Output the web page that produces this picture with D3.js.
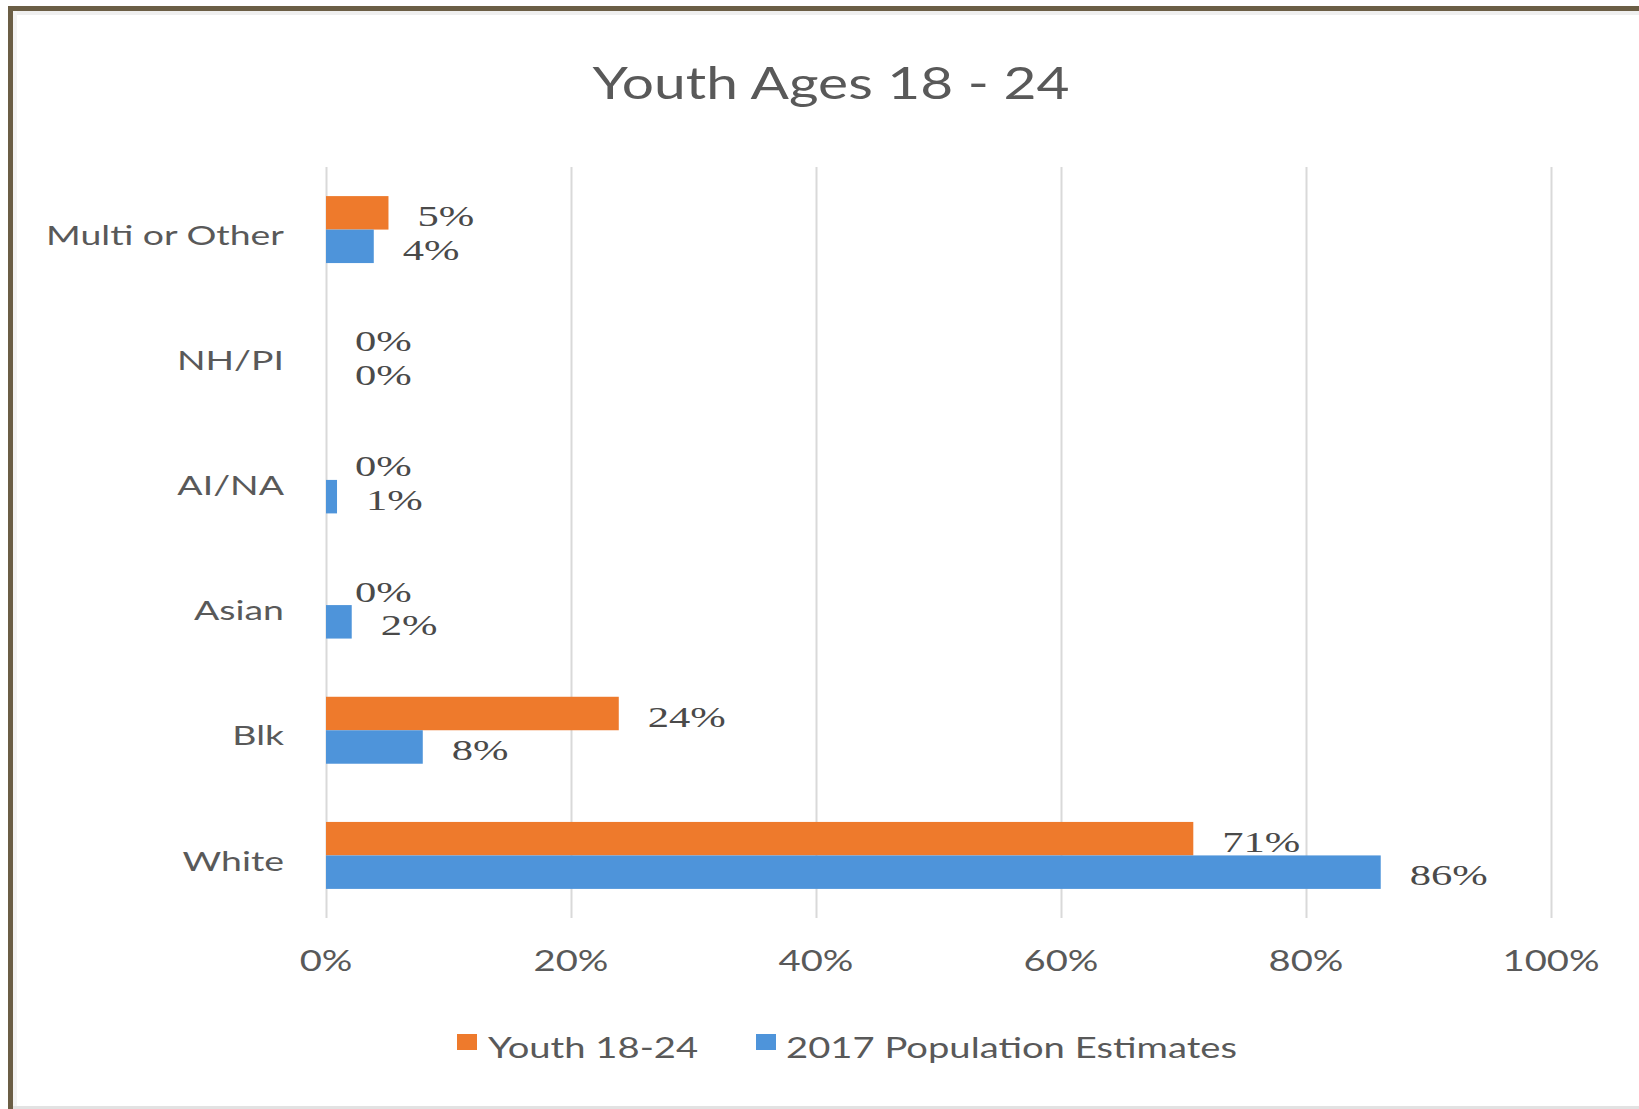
<!DOCTYPE html>
<html>
<head>
<meta charset="utf-8">
<script src="https://cdn.jsdelivr.net/npm/d3@7"></script>
<style>
  html, body { margin: 0; padding: 0; background: #ffffff; }
  svg { display: block; }
</style>
</head>
<body>
<svg id="chart" width="1639" height="1109"></svg>
<script>
// ---- data ----
const title = "Youth Ages 18 - 24";
const categories = ["Multi or Other", "NH/PI", "AI/NA", "Asian", "Blk", "White"];
const seriesNames = ["Youth 18-24", "2017 Population Estimates"];
const youthValues = [5.1, 0, 0, 0, 23.9, 70.8];
const populationValues = [3.9, 0, 0.9, 2.1, 7.9, 86.1];
const xTickValues = [0, 20, 40, 60, 80, 100];
const xTickLabels = ["0%", "20%", "40%", "60%", "80%", "100%"];
const seriesColors = ["#EE7A2C", "#4E94DA"];

// ---- setup ----
const svg = d3.select("#chart");
const W = 1639, H = 1109;
const sans = "Lato, 'Open Sans', sans-serif";
const serif = "'Liberation Serif', 'DejaVu Serif', serif";

// frame
svg.append("rect").attr("x", 0).attr("y", 0).attr("width", W).attr("height", H).attr("fill", "#ffffff");
svg.append("rect").attr("x", 13).attr("y", 11).attr("width", W - 13).attr("height", 4).attr("fill", "#efefef");
svg.append("rect").attr("x", 13).attr("y", 11).attr("width", 4).attr("height", H - 13).attr("fill", "#f3f3f3");
svg.append("rect").attr("x", 8).attr("y", 6).attr("width", W - 8).attr("height", 5).attr("fill", "#6b5e45");
svg.append("rect").attr("x", 8).attr("y", 6).attr("width", 5).attr("height", H - 6).attr("fill", "#6b5e45");
svg.append("rect").attr("x", 13).attr("y", H - 3).attr("width", W - 13).attr("height", 3).attr("fill", "#e2e2e2");

function measure(str, family, size, weight) {
  const t = svg.append("text").attr("font-family", family).attr("font-size", size)
    .attr("font-weight", weight || 400).text(str);
  const w = t.node().getComputedTextLength();
  t.remove();
  return w;
}

// horizontal stretch factors (reference image is stretched horizontally)
const titleSize = 44, catSize = 26, tickSize = 28, labelSize = 30, legendSize = 29;
const sxTitle = 477 / measure(title, sans, titleSize);
const sxCat = 238 / measure(categories[0], sans, catSize);
const sxTick = 97 / measure(xTickLabels[5], sans, tickSize);
const sxLabel = 78 / measure("24%", serif, labelSize);
const sxLegend = 451 / measure(seriesNames[1], sans, legendSize);

function stretchedText(parent, x, y, str, opt) {
  const g = parent.append("g").attr("transform", `translate(${x},${y}) scale(${opt.sx},1)`);
  g.append("text")
    .attr("font-family", opt.family).attr("font-size", opt.size)
    .attr("fill", opt.fill || "#595959")
    .attr("text-anchor", opt.anchor || "start")
    .attr("dominant-baseline", "central")
    .text(str);
  return g;
}

// ---- scales ----
const x = d3.scaleLinear().domain([0, 100]).range([326, 1551]);
const y = d3.scaleBand().domain(categories).range([167, 918]).paddingInner(0.465).paddingOuter(0.2325);
const ySub = d3.scaleBand().domain([0, 1]).range([0, y.bandwidth()]);

// ---- gridlines ----
const grid = svg.append("g").attr("transform", `translate(0,918)`)
  .call(d3.axisBottom(x).tickValues(xTickValues).tickSize(-(918 - 167)).tickFormat(""));
grid.select(".domain").remove();
grid.selectAll(".tick line").attr("stroke", "#d9d9d9").attr("stroke-width", 2);

// x tick labels
const tickG = svg.append("g");
xTickValues.forEach((v, i) => {
  stretchedText(tickG, x(v), 960, xTickLabels[i], { sx: sxTick, family: sans, size: tickSize, anchor: "middle" });
});

// category labels
const catAxis = svg.append("g").attr("transform", "translate(326,0)")
  .call(d3.axisLeft(y).tickSize(0).tickFormat(""));
catAxis.select(".domain").remove();
categories.forEach(c => {
  stretchedText(svg, 284, y(c) + y.bandwidth() / 2 + 5, c, { sx: sxCat, family: sans, size: catSize, anchor: "end" });
});

// ---- bars ----
const seriesData = [youthValues, populationValues];
seriesData.forEach((vals, si) => {
  const g = svg.append("g");
  g.selectAll("rect").data(categories).join("rect")
    .attr("x", x(0))
    .attr("y", c => y(c) + ySub(si))
    .attr("width", (c, i) => x(vals[i]) - x(0))
    .attr("height", ySub.bandwidth())
    .attr("fill", seriesColors[si]);
  categories.forEach((c, i) => {
    stretchedText(g, x(vals[i]) + 29, y(c) + ySub(si) + ySub.bandwidth() / 2 + 3,
      Math.round(vals[i]) + "%", { sx: sxLabel, family: serif, size: labelSize, fill: "#4a4a4a" });
  });
});

// ---- title ----
stretchedText(svg, 831, 82, title, { sx: sxTitle, family: sans, size: titleSize, anchor: "middle" });

// ---- legend ----
const legendItems = [{ x: 457, tx: 488 }, { x: 756, tx: 786 }];
seriesNames.forEach((name, i) => {
  svg.append("rect").attr("x", legendItems[i].x).attr("y", 1034).attr("width", 20).attr("height", 16)
    .attr("fill", seriesColors[i]);
  stretchedText(svg, legendItems[i].tx, 1047, name, { sx: sxLegend, family: sans, size: legendSize });
});
</script>
</body>
</html>
